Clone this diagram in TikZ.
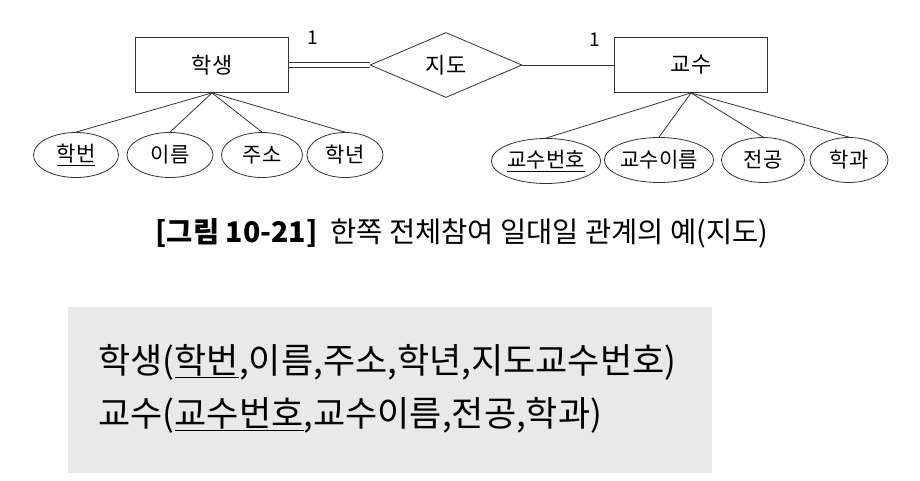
\documentclass[tikz,border=0pt]{standalone}
\usepackage{fontspec}
\setmainfont{Noto Sans CJK KR}
\usepackage{xcolor}
\usetikzlibrary{shapes.geometric}
\definecolor{linegray}{gray}{0.2}
\definecolor{boxgray}{RGB}{233,233,233}
\tikzset{
	entity/.style={
			draw=linegray, line width=0.8pt, rectangle,
			minimum width=153pt, minimum height=55pt,
			font=\fontsize{22}{22}\selectfont
		},
	relship/.style={
			draw=linegray, line width=0.8pt, diamond, inner sep=0pt,
			minimum width=152pt, minimum height=65pt,
			font=\fontsize{22}{22}\selectfont
		},
	attrib/.style={
			draw=linegray, line width=0.8pt, ellipse, inner sep=0pt,
			minimum height=45pt, font=\fontsize{21}{21}\selectfont
		},
	cardlabel/.style={inner sep=0pt, font=\fontsize{19}{19}\selectfont}
}

\begin{document}
\begin{tikzpicture}[x=1pt,y=-1pt]
			\useasboundingbox (0,0) rectangle (920,480);
			\node[entity] (student) at (212,65) {학생};
			\node[relship] (advise) at (446,65) {지도};
			\node[entity] (prof) at (691,65) {교수};
			\node[cardlabel] (oneS) at (313,38) {1};
			\node[cardlabel] (oneP) at (595,40) {1};
			\draw[linegray, line width=0.8pt, double, double distance=3.5pt] (student.east) -- (advise.west);
			\draw[linegray, line width=0.8pt] (advise.east) -- (prof.west);
			% attributes of student
			\node[attrib, minimum width=85pt] (sNo) at (76,155) {\underline{학번}};
			\node[attrib, minimum width=86pt] (sName) at (170,155) {이름};
			\node[attrib, minimum width=81pt] (sAddr) at (262,155) {주소};
			\node[attrib, minimum width=76pt] (sYear) at (345,155) {학년};
			% attributes of professor
			\node[attrib, minimum width=103pt] (pNo) at (546,161) {\underline{교수번호}};
			\node[attrib, minimum width=102pt] (pName) at (659,160) {교수이름};
			\node[attrib, minimum width=83pt] (pMajor) at (763,160) {전공};
			\node[attrib, minimum width=78pt] (pDept) at (849,160) {학과};
			\foreach \a in {sNo,sName,sAddr,sYear}
				\draw[linegray, line width=0.8pt] (student.south) -- (\a.north);
			\foreach \a in {pNo,pName,pMajor,pDept}
				\draw[linegray, line width=0.8pt] (prof.south) -- (\a.north);
			% caption
			\node[font=\fontsize{28.5}{28.5}\selectfont] (caption) at (462,233)
			{{\bfseries [그림 10-21]}\ \ 한쪽 전체참여 일대일 관계의 예(지도)};
			% relation schema
			\fill[boxgray] (68,307) rectangle (712,473);
			\node[anchor=west, font=\fontsize{35}{35}\selectfont] (stuRel) at (95,362)
			{학생(\underline{학번},이름,주소,학년,지도교수번호)};
			\node[anchor=west, font=\fontsize{35}{35}\selectfont] (profRel) at (95,415)
			{교수(\underline{교수번호},교수이름,전공,학과)};
		\end{tikzpicture}
\end{document}
